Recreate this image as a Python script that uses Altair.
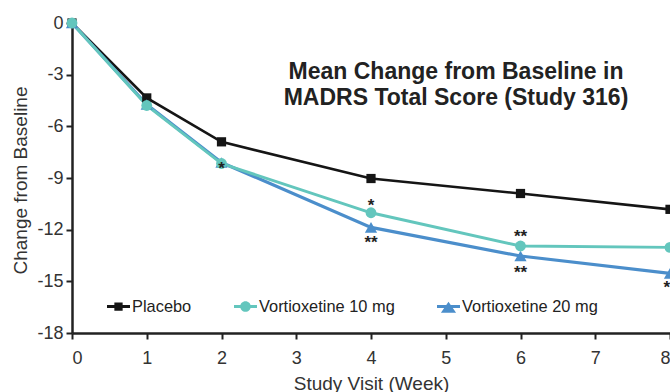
import altair as alt
import pandas as pd

# ---- data ----
weeks = [0, 1, 2, 4, 6, 8]
placebo = [0, -4.35, -6.9, -9.03, -9.9, -10.82]
vort10 = [0, -4.79, -8.16, -11.02, -12.95, -13.03]
vort20 = [0, -4.73, -8.1, -11.87, -13.53, -14.54]

series_names = ["Placebo", "Vortioxetine 10 mg", "Vortioxetine 20 mg"]
series_colors = ["#151515", "#63c6bd", "#4b8ecb"]

star_weeks = [2, 4, 4, 6, 6, 8]
star_values = [-8.16, -10.34, -12.47, -12.12, -14.25, -15.1]
star_labels = ["*", "*", "**", "**", "**", "**"]

x_ticks = [0, 1, 2, 3, 4, 5, 6, 7, 8]
y_ticks = [0, -3, -6, -9, -12, -15, -18]
title_lines = ["Mean Change from Baseline in", "MADRS Total Score (Study 316)"]
x_title = "Study Visit (Week)"
y_title = "Change from Baseline"

# ---- tables ----
rows = []
for name, vals in [(series_names[0], placebo), (series_names[2], vort20), (series_names[1], vort10)]:
    for w, v in zip(weeks, vals):
        rows.append({"week": w, "value": v, "series": name})
df = pd.DataFrame(rows)
stars = pd.DataFrame({"week": star_weeks, "value": star_values, "label": star_labels})

FONT = "Liberation Sans"

x_enc = alt.X("week:Q",
              scale=alt.Scale(domain=[0, 8], nice=False),
              axis=alt.Axis(values=x_ticks, title=x_title, labelPadding=10,
                            labelExpr="'' + datum.value",
                            titleY=50, titleBaseline="middle"))
y_enc = alt.Y("value:Q",
              scale=alt.Scale(domain=[-18, 0], nice=False, zero=False),
              axis=alt.Axis(values=y_ticks, title=y_title, labelPadding=3,
                            labelExpr="'' + datum.value",
                            titleX=-52, titleY=157, titleAngle=270,
                            titleAlign="center", titleBaseline="middle"))

cscale = alt.Scale(domain=series_names, range=series_colors)

lines = alt.Chart(df).mark_line().encode(
    x=x_enc, y=y_enc,
    color=alt.Color("series:N", scale=cscale, legend=None),
    strokeWidth=alt.StrokeWidth("series:N", scale=alt.Scale(domain=series_names, range=[2.6, 3.2, 3.6]), legend=None),
)

points = alt.Chart(df).mark_point(filled=True, opacity=1).encode(
    x=x_enc, y=y_enc,
    color=alt.Color("series:N", scale=cscale, legend=None),
    shape=alt.Shape("series:N", scale=alt.Scale(domain=series_names, range=["square", "circle", "triangle-up"]), legend=None),
    size=alt.Size("series:N", scale=alt.Scale(domain=series_names, range=[85, 150, 260]), legend=None),
)

star_text = alt.Chart(stars).mark_text(font=FONT, fontSize=17, fontWeight="bold", color="#222",
                                       baseline="middle", dy=5).encode(
    x="week:Q", y="value:Q", text="label:N")

legend_paths = [
    "M-1,-0.13 L1,-0.13 L1,0.13 L-1,0.13 Z M-0.36,-0.36 L0.36,-0.36 L0.36,0.36 L-0.36,0.36 Z",
    "M-1,-0.13 L1,-0.13 L1,0.13 L-1,0.13 Z M-0.46,0 A0.46,0.46 0 1,1 0.46,0 A0.46,0.46 0 1,1 -0.46,0 Z",
    "M-1,-0.13 L1,-0.13 L1,0.13 L-1,0.13 Z M0,-0.42 L0.66,0.55 L-0.66,0.55 Z",
]
leg = alt.Legend(title=None, orient="none", legendX=35, legendY=272, direction="horizontal",
                 symbolSize=529, labelFont=FONT, labelFontSize=16.4,
                 labelColor="#222", labelOffset=2, columnPadding=42, padding=0,
                 symbolStrokeWidth=0)
legend_layer = alt.Chart(df).transform_filter("false").mark_point(filled=True, opacity=1).encode(
    color=alt.Color("series:N", scale=cscale, legend=leg),
    shape=alt.Shape("series:N", scale=alt.Scale(domain=series_names, range=legend_paths), legend=leg),
)

main = alt.layer(lines, points, star_text)
chart = alt.layer(main, legend_layer).resolve_scale(
    color="independent", shape="independent"
).properties(
    width=598, height=310,
    padding={"left": 72, "top": 23, "right": 0, "bottom": 59},
    autosize=alt.AutoSizeParams(type="none"),
    title=alt.TitleParams(text=title_lines, font=FONT, fontSize=23, fontWeight="bold", color="#222",
                          anchor="middle", frame="group", dx=85, dy=96, lineHeight=26, offset=0),
).configure_view(stroke=None).configure_axis(
    grid=False, domainColor="#222", domainWidth=2.5, tickColor="#222", tickWidth=2, tickSize=6,
    labelFont=FONT, labelFontSize=18, labelColor="#333", titleFont=FONT, titleFontSize=19,
    titleFontWeight="normal", titleColor="#333",
)

chart.save("out.html", embed_options={"renderer": "svg", "actions": False})
